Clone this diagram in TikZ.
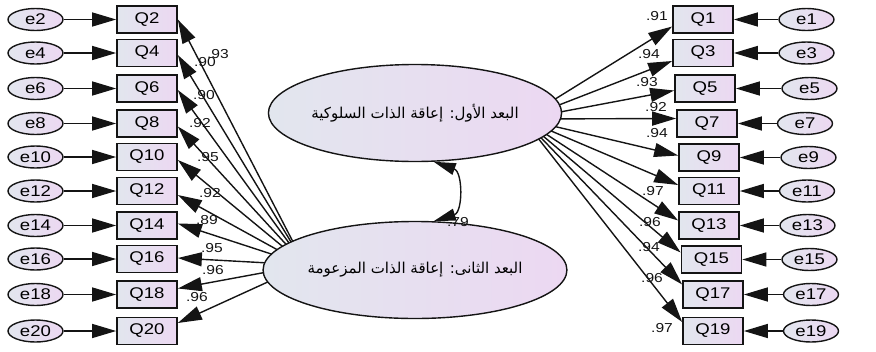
\documentclass[tikz,border=0pt]{standalone}
\usepackage{fontspec}
\setmainfont{Liberation Sans}[FakeStretch=1.2]
\newfontfamily\arabicfont[Script=Arabic]{DejaVu Sans}
\TeXXeTstate=1
\usetikzlibrary{shapes.geometric,arrows.meta}
\definecolor{shL}{RGB}{226,230,238}
\definecolor{shR}{RGB}{236,216,242}
\definecolor{ln}{RGB}{20,20,20}
\begin{document}
\begin{tikzpicture}[x=1pt,y=-1pt,
  obs/.style={draw=ln,line width=1.7pt,left color=shL,right color=shR,minimum width=60pt,minimum height=27pt,inner sep=0pt,font=\fontsize{15.5}{15.5}\selectfont},
  err/.style={ellipse,draw=ln,line width=1.4pt,left color=shL,right color=shR,minimum width=55pt,minimum height=22pt,inner sep=0pt,font=\fontsize{15.5}{15.5}\selectfont},
  lat/.style={ellipse,draw=ln,line width=1.4pt,left color=shL,right color=shR,minimum width=286pt,minimum height=97pt,inner sep=0pt,font=\arabicfont\fontsize{15}{15}\selectfont},
  arr/.style={draw=ln,line width=1.4pt,-{Triangle[length=24pt,width=14pt]}},
  ld/.style={font=\fontsize{13}{13}\selectfont,inner sep=0pt,text=ln}]
\useasboundingbox (0,0) rectangle (876,351);
% left indicators
\foreach \n/\y in {2/19.5,4/53,6/88.5,8/123.5,10/157,12/191,14/225.5,16/259,18/294.5,20/331}{
  \node[obs] (Q\n) at (147,\y) {Q\n};
  \node[err] (e\n) at (35.5,\y) {e\n};
  \draw[arr] (e\n) -- (Q\n);
}
% right indicators
\foreach \n/\qx/\y/\ex in {1/703/19.5/806.5,3/703/53/806.5,5/705/88.5/809.5,7/707/123.5/805,9/709/157.5/808.5,11/709/191/807,13/709/225.5/807.5,15/711.5/259.5/809.5,17/713/294.5/811,19/713/331/811}{
  \node[obs] (Q\n) at (\qx,\y) {Q\n};
  \node[err] (e\n) at (\ex,\y) {e\n};
  \draw[arr] (e\n) -- (Q\n);
}
\coordinate (c1) at (523,119);
\coordinate (c2) at (305,265);
% loadings, left
\foreach \n/\dy/\lx/\ly/\v in {2/0/218/54/.93,4/-2/205/62/.90,6/-1.5/204/95/.90,8/-3/200/123/.92,10/-3/208/157/.95,12/-4/210/193/.92,14/2/207/220/.89,16/1/212/248/.95,18/6/213/270/.96,20/8/197/297/.96}{
  \draw[arr] (c2) -- ([yshift=\dy pt]Q\n.east);
  \node[ld] (l\n) at (\lx,\ly) {\v};
}
% loadings, right
\foreach \n/\dy/\lx/\ly/\v in {1/-7/657/16/.91,3/-8/649/54/.94,5/-2/647/82/.93,7/5/656/107/.92,9/2/657/133/.94,11/6/653/191/.97,13/5/650/222/.96,15/7/649/247/.94,17/10/652/278/.96,19/9/662/328/.97}{
  \draw[arr] (c1) -- ([yshift=\dy pt]Q\n.west);
  \node[ld] (l\n) at (\lx,\ly) {\v};
}
% latent factors
\node[lat] (F1) at (415,113) {\beginR البعد الأول: إعاقة الذات السلوكية\endR};
\node[lat] (F2) at (415,270) {\beginR البعد الثانى: إعاقة الذات المزعومة\endR};
% covariance
\draw[draw=ln,line width=1.4pt,{Triangle[length=22pt,width=12pt]}-{Triangle[length=22pt,width=12pt]}] (F1.-69) .. controls (463,172) and (463,212) .. (F2.69);
\node[ld] (cov) at (458,222) {.79};
\end{tikzpicture}
\end{document}
